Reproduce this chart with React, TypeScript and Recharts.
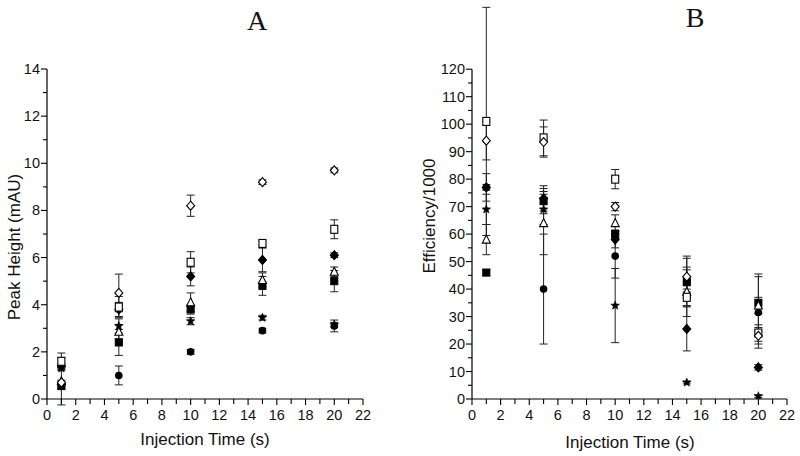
import React from 'react'
import { ScatterChart, Scatter, XAxis, YAxis, ErrorBar, ReferenceLine } from 'recharts'

// injection times (s)
const times = [1, 5, 10, 15, 20]

// Panel A: peak height (mAU)
const phOpenDiamond = [0.7, 4.5, 8.2, 9.2, 9.7]
const phOpenDiamondErr = [0.1, 0.8, 0.45, 0.1, 0.1]
const phOpenSquare = [1.6, 3.9, 5.8, 6.6, 7.2]
const phOpenSquareErr = [0.35, 0.45, 0.45, 0.1, 0.4]
const phFilledDiamond = [1.4, 3.8, 5.2, 5.9, 6.1]
const phFilledDiamondErr = [0.1, 0.3, 0.4, 0.5, 0.1]
const phTriangle = [0.75, 2.85, 4.1, 5.05, 5.4]
const phTriangleErr = [1.0, 0.3, 0.4, 0.3, 0.2]
const phFilledSquare = [0.55, 2.4, 3.8, 4.8, 5.0]
const phFilledSquareErr = [0.1, 0.55, 0.2, 0.4, 0.45]
const phStar = [1.3, 3.1, 3.3, 3.45, 3.15]
const phStarErr = [0.1, 0.3, 0.15, 0.1, 0.1]
const phCircle = [0.65, 1.0, 2.0, 2.9, 3.1]
const phCircleErr = [0.1, 0.4, 0.1, 0.1, 0.25]

// Panel B: efficiency / 1000
const effOpenDiamond = [94, 93.5, 70, 44.5, 23]
const effOpenDiamondErr = [7, 5.5, 1.5, 7.5, 3]
const effOpenSquare = [101, 95, 80, 37, 24]
const effOpenSquareErr = [41.5, 6.5, 3.5, 3, 3]
const effFilledDiamond = [77, 73, 58, 25.5, 11.5]
const effFilledDiamondErr = [5, 4.6, 3, 8, 1]
const effTriangle = [58, 64, 64, 39, 34]
const effTriangleErr = [5.5, 11.5, 3, 9, 3]
const effFilledSquare = [46, 72, 60, 42.5, 35]
const effFilledSquareErr = [1, 4.6, 1.5, 8.7, 10.5]
const effStar = [69, 69, 34, 6, 1]
const effStarErr = [5.5, 5.5, 13.5, 0.5, 0.5]
const effCircle = [77, 40, 52, 43, 31.5]
const effCircleErr = [1, 20, 8, 4, 13]

// axis ticks
const xTicks = [0, 1, 2, 3, 4, 5, 6, 7, 8, 9, 10, 11, 12, 13, 14, 15, 16, 17, 18, 19, 20, 21, 22]
const xLabelled = [0, 2, 4, 6, 8, 10, 12, 14, 16, 18, 20, 22]
const phTicks = [0, 1, 2, 3, 4, 5, 6, 7, 8, 9, 10, 11, 12, 13, 14]
const phLabelled = [0, 2, 4, 6, 8, 10, 12, 14]
const effTicks = [0, 5, 10, 15, 20, 25, 30, 35, 40, 45, 50, 55, 60, 65, 70, 75, 80, 85, 90, 95, 100, 105, 110, 115, 120]
const effLabelled = [0, 10, 20, 30, 40, 50, 60, 70, 80, 90, 100, 110, 120]

type Mark = 'openDiamond' | 'openSquare' | 'filledDiamond' | 'triangle' | 'filledSquare' | 'star' | 'circle'

const FONT = '"Liberation Sans", Arial, Helvetica, sans-serif'

function makeShape(mark: Mark) {
  return (props: any) => {
    const { cx, cy } = props
    if (cx == null || cy == null) return <g />
    const s = { stroke: '#000', strokeWidth: 1.1 }
    switch (mark) {
      case 'openDiamond':
        return <polygon points={`${cx},${cy - 4.5} ${cx + 4},${cy} ${cx},${cy + 4.5} ${cx - 4},${cy}`} fill="#fff" {...s} />
      case 'filledDiamond':
        return <polygon points={`${cx},${cy - 4.5} ${cx + 4},${cy} ${cx},${cy + 4.5} ${cx - 4},${cy}`} fill="#000" {...s} />
      case 'openSquare':
        return <rect x={cx - 3.5} y={cy - 4} width={7} height={8} fill="#fff" {...s} />
      case 'filledSquare':
        return <rect x={cx - 3.5} y={cy - 3.5} width={7} height={7} fill="#000" {...s} />
      case 'triangle':
        return <polygon points={`${cx},${cy - 4.5} ${cx + 4},${cy + 3.5} ${cx - 4},${cy + 3.5}`} fill="#fff" {...s} />
      case 'star': {
        const pts: string[] = []
        for (let k = 0; k < 10; k++) {
          const r = k % 2 === 0 ? 4.6 : 2
          const a = -Math.PI / 2 + (k * Math.PI) / 5
          pts.push(`${cx + r * Math.cos(a)},${cy + r * Math.sin(a)}`)
        }
        return <polygon points={pts.join(' ')} fill="#000" stroke="#000" strokeWidth={0.5} />
      }
      default:
        return <circle cx={cx} cy={cy} r={3.8} fill="#000" />
    }
  }
}

function toPoints(vals: number[], errs: number[]) {
  return times.map((x, i) => ({ x, y: vals[i], err: errs[i] }))
}

const XTick = (props: any) => {
  const { x, y, payload } = props
  const v = payload.value
  const major = xLabelled.includes(v)
  return (
    <g>
      <line x1={x} x2={x} y1={y} y2={y + (major ? 6 : 5)} stroke="#000" strokeWidth={1.1} />
      {major && (
        <text x={x} y={y + 21} textAnchor="middle" fontSize={14.5} fontFamily={FONT} fill="#111">
          {v}
        </text>
      )}
    </g>
  )
}

const makeYTick = (labelled: number[]) => (props: any) => {
  const { x, y, payload } = props
  const v = payload.value
  const major = labelled.includes(v)
  return (
    <g>
      <line x1={x} x2={x - (major ? 6 : 4)} y1={y} y2={y} stroke="#000" strokeWidth={1.1} />
      {major && (
        <text x={x - 7} y={y + 5} textAnchor="end" fontSize={14.5} fontFamily={FONT} fill="#111">
          {v}
        </text>
      )}
    </g>
  )
}

interface Series {
  mark: Mark
  data: { x: number; y: number; err: number }[]
}

const seriesA: Series[] = [
  { mark: 'circle', data: toPoints(phCircle, phCircleErr) },
  { mark: 'star', data: toPoints(phStar, phStarErr) },
  { mark: 'filledSquare', data: toPoints(phFilledSquare, phFilledSquareErr) },
  { mark: 'triangle', data: toPoints(phTriangle, phTriangleErr) },
  { mark: 'filledDiamond', data: toPoints(phFilledDiamond, phFilledDiamondErr) },
  { mark: 'openSquare', data: toPoints(phOpenSquare, phOpenSquareErr) },
  { mark: 'openDiamond', data: toPoints(phOpenDiamond, phOpenDiamondErr) },
]

const seriesB: Series[] = [
  { mark: 'circle', data: toPoints(effCircle, effCircleErr) },
  { mark: 'star', data: toPoints(effStar, effStarErr) },
  { mark: 'filledSquare', data: toPoints(effFilledSquare, effFilledSquareErr) },
  { mark: 'triangle', data: toPoints(effTriangle, effTriangleErr) },
  { mark: 'filledDiamond', data: toPoints(effFilledDiamond, effFilledDiamondErr) },
  { mark: 'openSquare', data: toPoints(effOpenSquare, effOpenSquareErr) },
  { mark: 'openDiamond', data: toPoints(effOpenDiamond, effOpenDiamondErr) },
]

function renderSeries(list: Series[], prefix: string) {
  return list.map((s) => (
    <Scatter
      key={prefix + s.mark}
      data={s.data}
      shape={makeShape(s.mark)}
      isAnimationActive={false}
    >
      <ErrorBar dataKey="err" direction="y" width={4} stroke="#222" strokeWidth={1} />
    </Scatter>
  ))
}

const labelStyle: React.CSSProperties = {
  position: 'absolute',
  fontFamily: FONT,
  fontSize: 17,
  color: '#111',
  whiteSpace: 'nowrap',
}

export default function App() {
  return (
    <div style={{ position: 'absolute', left: 0, top: 0, width: 800, height: 456, background: '#fff' }}>
      <div style={{ position: 'absolute', left: 0, top: 0 }}>
        <ScatterChart width={400} height={456} margin={{ top: 69, right: 37, bottom: 27, left: 7 }}>
          <XAxis
            type="number"
            dataKey="x"
            domain={[0, 22]}
            ticks={xTicks}
            interval={0}
            height={30}
            tickSize={0}
            tickMargin={0}
            tickLine={false}
            tick={<XTick />}
            axisLine={{ stroke: '#000', strokeWidth: 1.2 }}
            allowDataOverflow
          />
          <YAxis
            type="number"
            dataKey="y"
            domain={[0, 14]}
            ticks={phTicks}
            interval={0}
            width={40}
            tickSize={0}
            tickMargin={0}
            tickLine={false}
            tick={makeYTick(phLabelled)}
            axisLine={{ stroke: '#000', strokeWidth: 1.2 }}
            allowDataOverflow
          />
          {renderSeries(seriesA, 'a')}
        </ScatterChart>
      </div>
      <div style={{ position: 'absolute', left: 400, top: 0 }}>
        <ScatterChart width={400} height={456} margin={{ top: 6, right: 13, bottom: 27, left: 32 }}>
          <XAxis
            type="number"
            dataKey="x"
            domain={[0, 22]}
            ticks={xTicks}
            interval={0}
            height={30}
            tickSize={0}
            tickMargin={0}
            tickLine={false}
            tick={<XTick />}
            axisLine={{ stroke: '#000', strokeWidth: 1.2 }}
            allowDataOverflow
          />
          <YAxis
            type="number"
            dataKey="y"
            domain={[0, 143]}
            ticks={effTicks}
            interval={0}
            width={40}
            tickSize={0}
            tickMargin={0}
            tickLine={false}
            tick={makeYTick(effLabelled)}
            axisLine={false}
            allowDataOverflow
          />
          <ReferenceLine
            segment={[{ x: 0, y: 0 }, { x: 0, y: 120 }]}
            stroke="#000"
            strokeWidth={1.2}
            ifOverflow="visible"
          />
          {renderSeries(seriesB, 'b')}
        </ScatterChart>
      </div>

      <div style={{ position: 'absolute', left: 257, top: 21, transform: 'translate(-50%, -50%)', fontFamily: '"Liberation Serif", "Times New Roman", serif', fontSize: 28, color: '#111' }}>A</div>
      <div style={{ position: 'absolute', left: 695, top: 18, transform: 'translate(-50%, -50%)', fontFamily: '"Liberation Serif", "Times New Roman", serif', fontSize: 28, color: '#111' }}>B</div>

      <div style={{ ...labelStyle, left: 205, top: 440, transform: 'translate(-50%, -50%)' }}>Injection Time (s)</div>
      <div style={{ ...labelStyle, left: 630, top: 443, transform: 'translate(-50%, -50%)' }}>Injection Time (s)</div>
      <div style={{ ...labelStyle, left: 15, top: 247, transform: 'translate(-50%, -50%) rotate(-90deg)' }}>Peak Height (mAU)</div>
      <div style={{ ...labelStyle, left: 430, top: 216, transform: 'translate(-50%, -50%) rotate(-90deg)' }}>Efficiency/1000</div>
    </div>
  )
}
